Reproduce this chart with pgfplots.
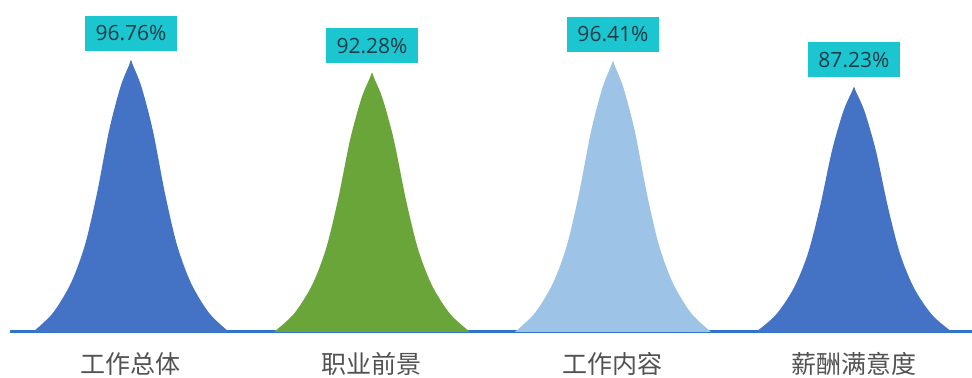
\documentclass[border=0pt]{standalone}
\usepackage{pgfplots}
\pgfplotsset{compat=1.18}
\usepackage{fontspec}
\setmainfont{Open Sans}
\newfontfamily\cjk{Noto Sans CJK SC}
\definecolor{peakblue}{HTML}{4472C4}
\definecolor{peakgreen}{HTML}{6AA53A}
\definecolor{peaklight}{HTML}{9DC3E6}
\definecolor{baseblue}{HTML}{2E75C6}
\definecolor{boxcyan}{HTML}{1CC6D0}
\definecolor{boxtext}{HTML}{1C3B44}
\begin{document}
\begin{tikzpicture}
\begin{axis}[
    scale only axis,
    width=481pt, height=166pt,
    xmin=-0.502, xmax=3.49,
    ymin=0, ymax=118.1,
    axis x line=bottom,
    axis y line=none,
    axis line style={draw=baseblue, line width=1.5pt, -},
    xtick={0,1,2,3},
    xticklabels={工作总体,职业前景,工作内容,薪酬满意度},
    xticklabel style={font=\cjk\fontsize{12.5}{14}\selectfont, text=black!68, anchor=north, inner sep=0pt, yshift=-10pt},
    major tick length=0pt,
    clip=false,
    peak/.style={draw=none, smooth, tension=0.5},
]
% peak outlines
\addplot [peak, fill=peakblue] coordinates {
  (-0.407,0) (-0.324,6.77) (-0.249,17.42) (-0.191,30.96) (-0.141,49.35) (-0.091,71.60)
  (-0.044,87.08) (-0.008,94.92) (0,96.76)
  (0.008,94.92) (0.044,87.08) (0.091,71.60) (0.141,49.35) (0.191,30.96) (0.249,17.42)
  (0.324,6.77) (0.407,0)
};
\addplot [peak, fill=peakgreen] coordinates {
  (0.593,0) (0.676,6.46) (0.751,16.61) (0.809,29.53) (0.859,47.06) (0.909,68.29)
  (0.956,83.05) (0.992,90.53) (1,92.28)
  (1.008,90.53) (1.044,83.05) (1.091,68.29) (1.141,47.06) (1.191,29.53) (1.249,16.61)
  (1.324,6.46) (1.407,0)
};
\addplot [peak, fill=peaklight] coordinates {
  (1.593,0) (1.676,6.75) (1.751,17.35) (1.809,30.85) (1.859,49.17) (1.909,71.34)
  (1.956,86.77) (1.992,94.58) (2,96.41)
  (2.008,94.58) (2.044,86.77) (2.091,71.34) (2.141,49.17) (2.191,30.85) (2.249,17.35)
  (2.324,6.75) (2.407,0)
};
\addplot [peak, fill=peakblue] coordinates {
  (2.593,0) (2.676,6.11) (2.751,15.70) (2.809,27.91) (2.859,44.49) (2.909,64.55)
  (2.956,78.51) (2.992,85.57) (3,87.23)
  (3.008,85.57) (3.044,78.51) (3.091,64.55) (3.141,44.49) (3.191,27.91) (3.249,15.70)
  (3.324,6.11) (3.407,0)
};
% value labels
\addplot [draw=none, mark=none,
    nodes near coords={\pgfmathprintnumber[fixed,precision=2,fixed zerofill,assume math mode=true]{\pgfplotspointmeta}\%},
    every node near coord/.style={fill=boxcyan, text=boxtext, font=\fontsize{10.5}{12}\selectfont,
        anchor=south, minimum width=46pt, minimum height=17.5pt, inner sep=0pt, yshift=4.5pt}]
  coordinates {(0,96.76) (1,92.28) (2,96.41) (3,87.23)};
\end{axis}
\pgfresetboundingbox
\path ([xshift=-5pt]current axis.south west) ++(0,-23pt) rectangle (current axis.north east);
\end{tikzpicture}
\end{document}
